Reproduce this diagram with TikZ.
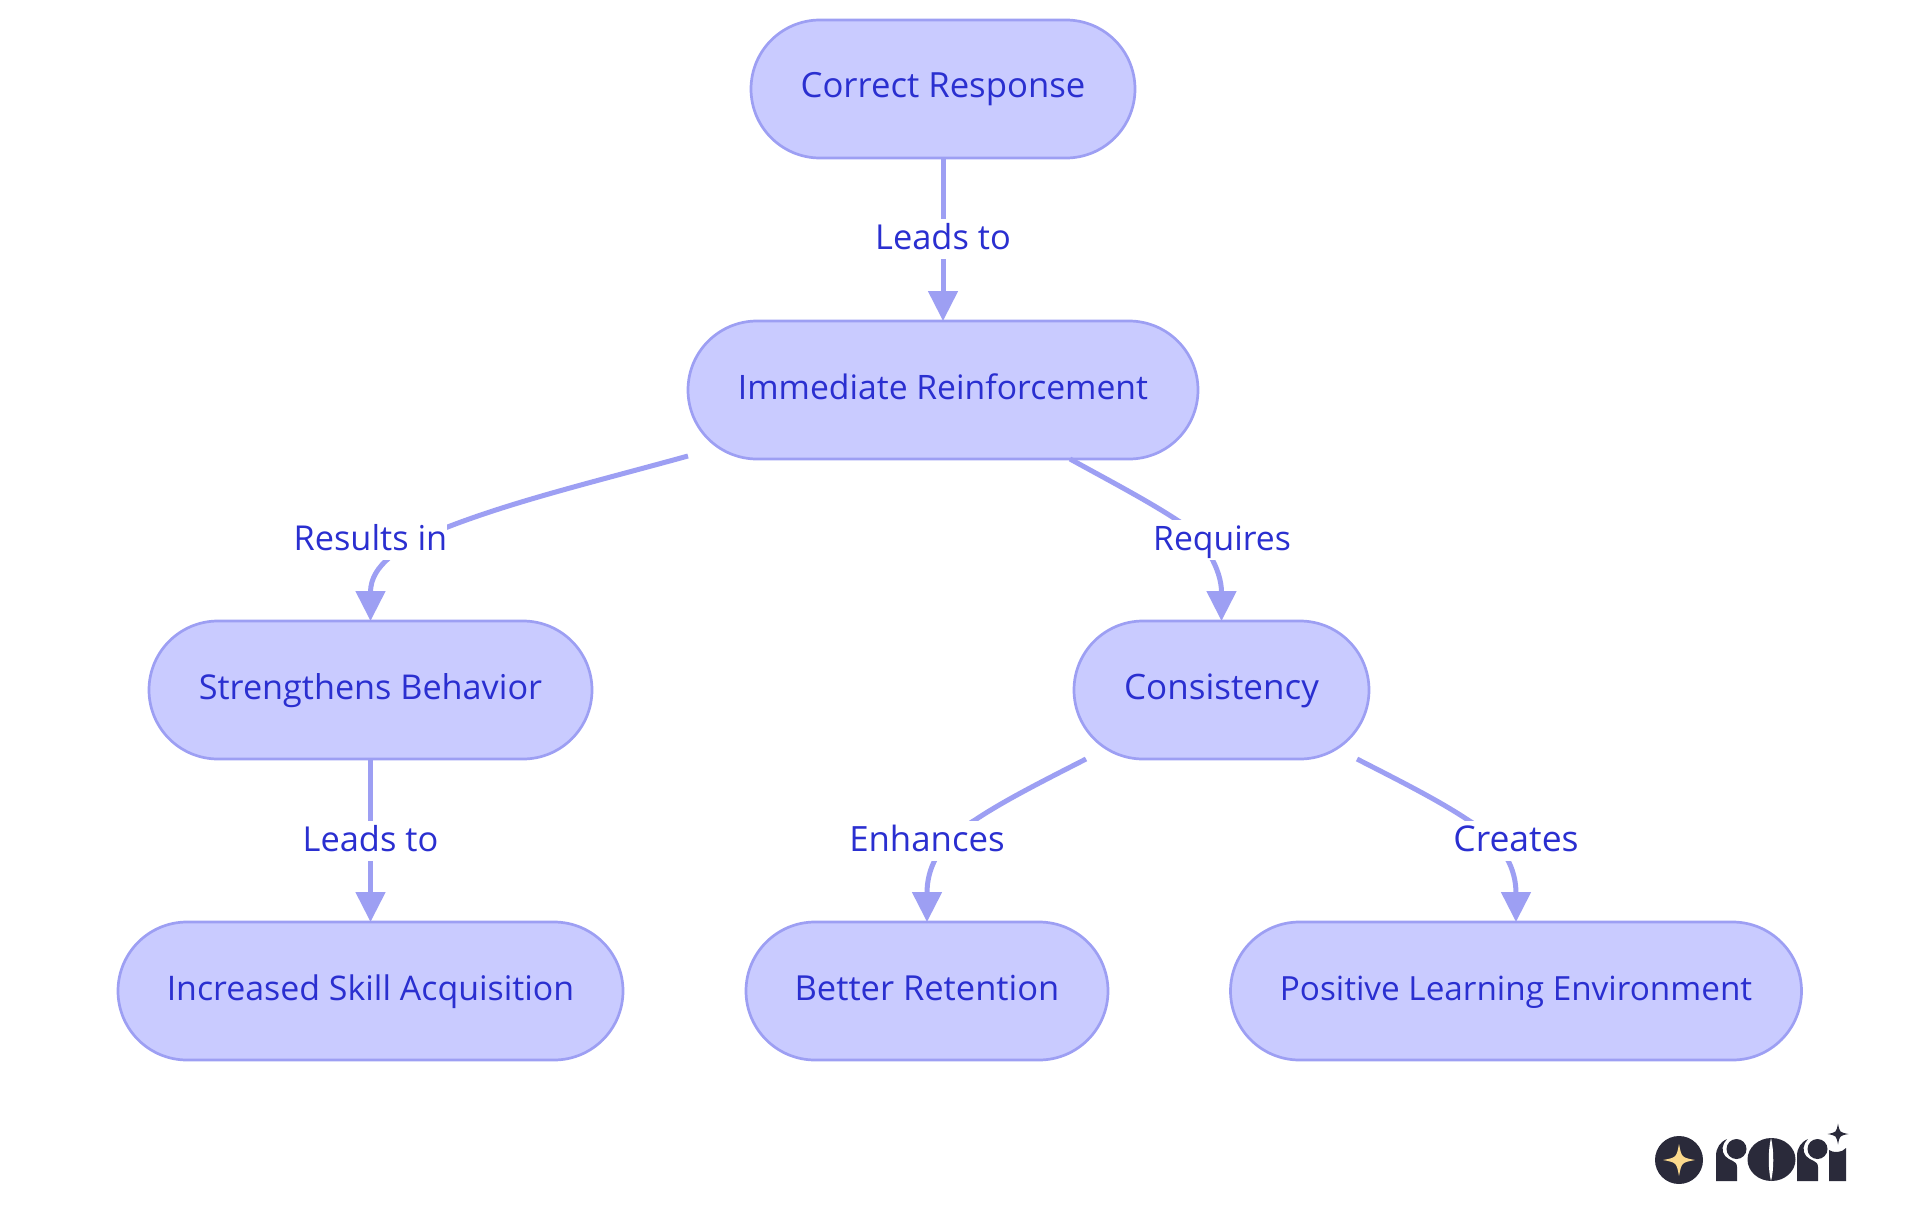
\documentclass[tikz,border=0pt]{standalone}
\usepackage{fontspec}
\setmainfont{Open Sans}
\usetikzlibrary{arrows.meta,calc}
\definecolor{nodefill}{HTML}{C9CBFF}
\definecolor{nodeline}{HTML}{9D9FF3}
\definecolor{inktext}{HTML}{2A2FD0}
\definecolor{logodark}{HTML}{2A2A3A}
\definecolor{logogold}{HTML}{FBD98C}
\tikzset{
  fs/.style={font=\fontsize{#1}{40}\selectfont},
  box/.style={draw=nodeline,line width=2.7pt,fill=nodefill,rounded corners=69pt,minimum height=138pt,inner sep=0pt,outer sep=0pt,text=inktext,text height=28pt,text depth=10pt},
  conn/.style={draw=nodeline,line width=5pt,-{Triangle[length=30pt,width=29pt]}},
  lab/.style={fill=white,inner sep=0pt,outer sep=0pt,text=inktext,text height=30.5pt,text depth=9.5pt},
  logo/.style={fill=logodark,draw=none}
}
\newcommand{\fourstar}[3]{\fill[#3] ($(#1)+(0,-#2)$) .. controls ($(#1)+(0.16*#2,-0.16*#2)$) .. ($(#1)+(#2,0)$) .. controls ($(#1)+(0.16*#2,0.16*#2)$) .. ($(#1)+(0,#2)$) .. controls ($(#1)+(-0.16*#2,0.16*#2)$) .. ($(#1)+(-#2,0)$) .. controls ($(#1)+(-0.16*#2,-0.16*#2)$) .. cycle;}
\newcommand{\rletter}[1]{\begin{scope}[xshift=#1]
\fill[logo] (1716,1181) -- (1716,1156) .. controls (1716,1148) and (1720,1142) .. (1727,1139) .. controls (1722,1144) and (1721,1151) .. (1725,1156) .. controls (1729,1161) and (1737,1160) .. (1737,1167) -- (1737,1181) -- cycle;
\fill[logo] (1736.5,1149) circle (10);
\end{scope}}
\begin{document}
\begin{tikzpicture}[x=1pt,y=-1pt]
\useasboundingbox (0,0) rectangle (1920,1215);
\node[box,fs=34.7,minimum width=384pt] (cr) at (943,89) {Correct Response};
\node[box,fs=33.7,minimum width=510pt] (ir) at (943,390) {Immediate Reinforcement};
\node[box,fs=34.2,minimum width=443pt] (sb) at (370.5,690) {Strengthens Behavior};
\node[box,fs=35,minimum width=295pt] (co) at (1221.5,690) {Consistency};
\node[box,fs=33.9,minimum width=505pt] (is) at (370.5,991) {Increased Skill Acquisition};
\node[box,fs=34.5,minimum width=362pt] (br) at (927,991) {Better Retention};
\node[box,fs=33.3,minimum width=571pt] (pl) at (1516,991) {Positive Learning Environment};
\draw[conn] (cr.south) -- (ir.north);
\draw[conn] ($(ir.south west)+(0,-3)$) .. controls (590,483) and (510,502) .. (440,530) .. controls (400,546) and (370.5,565) .. (sb.north);
\draw[conn] ($(ir.south)+(127,0)$) .. controls (1110,481) and (1150,502) .. (1180,522) .. controls (1205,540) and (1221.5,570) .. (co.north);
\draw[conn] (sb.south) -- (is.north);
\draw[conn] ($(co.south)+(-135.5,0)$) .. controls (1045,780) and (1005,800) .. (975,820) .. controls (937,843) and (927,870) .. (br.north);
\draw[conn] ($(co.south)+(135.5,0)$) .. controls (1398,780) and (1438,800) .. (1468,820) .. controls (1505,843) and (1516,870) .. (pl.north);
\node[lab,fs=34.4] (l1) at (943,238.5) {Leads to};
\node[lab,fs=34.3] (l2) at (370.5,539.5) {Results in};
\node[lab,fs=33.7] (l3) at (1222,539.5) {Requires};
\node[lab,fs=34.4] (l4) at (370.5,841) {Leads to};
\node[lab,fs=34.8] (l5) at (927,841) {Enhances};
\node[lab,fs=35.5] (l6) at (1516,841) {Creates};
% logo
\fill[logo] (1679,1160) circle (24);
\fourstar{1679,1160}{16}{logogold}
\rletter{0pt}
\fill[logo] (1771.5,1159.5) ellipse (24 and 21.5);
\fill[white] (1771,1138) .. controls (1768,1150) and (1768,1170) .. (1771,1181) .. controls (1774,1170) and (1774,1150) .. (1771,1138) -- cycle;
\rletter{81pt}
\fill[logo] (1829,1150) .. controls (1833,1153) and (1842,1153) .. (1846,1148) -- (1846,1181) -- (1829,1181) -- cycle;
\fourstar{1838,1134}{10.5}{logodark}
\end{tikzpicture}
\end{document}
